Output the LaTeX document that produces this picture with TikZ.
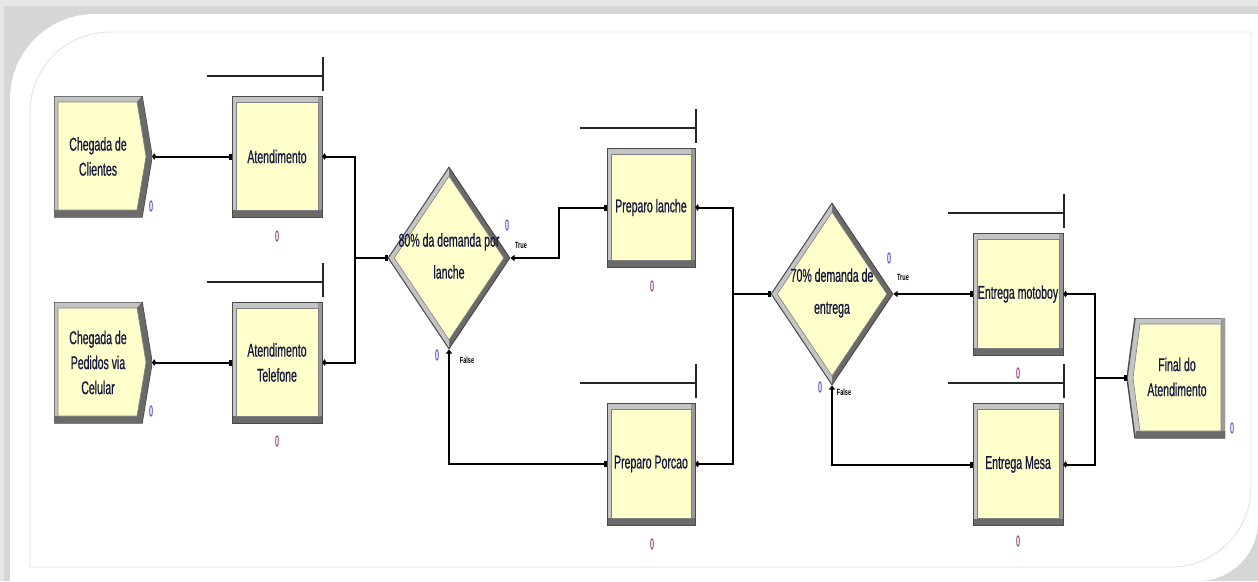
\documentclass[tikz,border=0pt]{standalone}
\usepackage{fontspec}
\newfontfamily\arena[FakeStretch=0.57,FakeBold=0.6]{Liberation Sans}
\newfontfamily\arenasmall[FakeStretch=0.62]{Liberation Sans}
\newfontfamily\arenanarrow[FakeStretch=0.42,FakeBold=0.5]{Liberation Sans}
\usetikzlibrary{shapes.geometric,arrows.meta,calc}
\definecolor{boxyellow}{HTML}{FFFFCC}
\definecolor{bevlight}{HTML}{C4C4C4}
\definecolor{bevmid}{HTML}{9A9A9A}
\definecolor{bevdark}{HTML}{6A6A6A}
\definecolor{edgedark}{HTML}{4A4A4A}
\definecolor{edgemid}{HTML}{808080}
\definecolor{txtblue}{HTML}{161840}
\definecolor{zeroproc}{HTML}{9A4A8A}
\definecolor{zeroblue}{HTML}{5A5AC8}
\definecolor{bggrey}{HTML}{D6D6D6}
\definecolor{bglight}{HTML}{E6E6E6}
\definecolor{framegrey}{HTML}{DDDDDD}
\begin{document}
\begin{tikzpicture}[x=1pt,y=-1pt,
  boxtext/.style={font=\arena\fontsize{18.5}{25}\selectfont, text=txtblue, align=center, inner sep=0pt},
  dtext/.style={font=\arena\fontsize{18.5}{32}\selectfont, text=txtblue, align=center, inner sep=0pt},
  zp/.style={font=\arenanarrow\fontsize{16}{16}\selectfont, text=zeroproc, inner sep=0pt},
  zb/.style={font=\arenanarrow\fontsize{16}{16}\selectfont, text=zeroblue, inner sep=0pt},
  tf/.style={font=\arenasmall\bfseries\fontsize{9}{9}\selectfont, text=black, inner sep=0pt},
  qline/.style={line width=2pt, draw=black!85},
  conn/.style={line width=2pt, draw=black, {Circle[length=4pt,width=5pt]}-{Square[length=3pt,width=6pt]}},
  dconn/.style={line width=2pt, draw=black, {Triangle[length=4pt,width=6pt]}-{Square[length=3pt,width=6pt]}},
  procbox/.style={rectangle, minimum width=90pt, minimum height=121pt, inner sep=0pt,
    fill=bevlight, draw=edgedark, line width=1pt, boxtext,
    path picture={
      \path (path picture bounding box.north west) coordinate (ppA)
            (path picture bounding box.north east) coordinate (ppD)
            (path picture bounding box.south east) coordinate (ppB)
            (path picture bounding box.south west) coordinate (ppC);
      \fill[bevmid] ([xshift=-4pt]ppD) rectangle (ppB);
      \fill[bevdark] (ppC) rectangle ([yshift=7pt]ppB);
      \filldraw[fill=boxyellow, draw=edgemid, line width=0.6pt]
        ([xshift=4pt,yshift=-6pt]ppA) rectangle ([xshift=-4pt,yshift=7pt]ppB);
    }},
  createbox/.style={rectangle, minimum width=98pt, minimum height=121pt, inner sep=0pt, fill=white,
    path picture={
      \path (path picture bounding box.north west) coordinate (ppA)
            (path picture bounding box.north east) coordinate (ppD)
            (path picture bounding box.east) coordinate (ppE)
            (path picture bounding box.south east) coordinate (ppB)
            (path picture bounding box.south west) coordinate (ppC);
      \filldraw[fill=bevlight, draw=edgedark, line width=1.4pt]
        (ppA) -- ([xshift=-10pt]ppD) -- (ppE) -- ([xshift=-10pt]ppB) -- (ppC) -- cycle;
      \fill[bevdark] ([xshift=-10pt]ppD) -- (ppE) -- ([xshift=-10pt]ppB) -- (ppC)
        -- ([yshift=7pt]ppC) -- ([xshift=-15pt,yshift=7pt]ppB) -- ([xshift=-6pt]ppE)
        -- ([xshift=-15pt,yshift=-6pt]ppD) -- cycle;
      \filldraw[fill=boxyellow, draw=edgemid, line width=0.6pt]
        ([xshift=4pt,yshift=-6pt]ppA) -- ([xshift=-15pt,yshift=-6pt]ppD) -- ([xshift=-6pt]ppE)
        -- ([xshift=-15pt,yshift=7pt]ppB) -- ([xshift=4pt,yshift=7pt]ppC) -- cycle;
    }},
  disposebox/.style={rectangle, minimum width=98pt, minimum height=120pt, inner sep=0pt, fill=white,
    path picture={
      \path (path picture bounding box.north west) coordinate (ppA)
            (path picture bounding box.north east) coordinate (ppD)
            (path picture bounding box.west) coordinate (ppW)
            (path picture bounding box.south east) coordinate (ppB)
            (path picture bounding box.south west) coordinate (ppC);
      \filldraw[fill=bevlight, draw=edgedark, line width=1.4pt]
        ([xshift=8pt]ppA) -- (ppD) -- (ppB) -- ([xshift=8pt]ppC) -- (ppW) -- cycle;
      \fill[bevmid] ([xshift=-4pt]ppD) rectangle (ppB);
      \fill[bevdark] ([xshift=8pt]ppC) -- (ppB) -- ([yshift=7pt]ppB) -- ([xshift=9pt,yshift=7pt]ppC) -- cycle;
      \filldraw[fill=boxyellow, draw=edgemid, line width=0.6pt]
        ([xshift=13pt,yshift=-6pt]ppA) -- ([xshift=-4pt,yshift=-6pt]ppD) -- ([xshift=-4pt,yshift=7pt]ppB)
        -- ([xshift=13pt,yshift=7pt]ppC) -- ([xshift=6pt]ppW) -- cycle;
    }},
  decbox/.style={diamond, minimum width=122pt, minimum height=182pt, inner sep=0pt,
    fill=bevdark, draw=edgedark, line width=1pt,
    path picture={
      \path (path picture bounding box.north) coordinate (ppN)
            (path picture bounding box.south) coordinate (ppS)
            (path picture bounding box.west) coordinate (ppW)
            (path picture bounding box.east) coordinate (ppE);
      \fill[bevlight] (ppN) -- (ppW) -- (ppS) -- cycle;
      \filldraw[fill=boxyellow, draw=edgemid, line width=0.6pt]
        ([yshift=-9pt]ppN) -- ([xshift=6pt]ppW) -- ([yshift=9pt]ppS) -- ([xshift=-6pt]ppE) -- cycle;
    }}
]
\useasboundingbox (0,0) rectangle (1258,581);
% background frame
\fill[bggrey] (0,0) rectangle (1258,581);
\fill[bglight] (0,0) rectangle (1258,6);
\fill[bglight] (0,0) rectangle (4,581);
\fill[white] (10,581) -- (10,99) arc[start angle=180,end angle=90,radius=85pt] -- (1258,14)
  -- (1258,521) arc[start angle=0,end angle=-90,radius=60pt] -- cycle;
\draw[framegrey, line width=0.7pt] (30,567) -- (30,112) arc[start angle=180,end angle=90,radius=80pt]
  -- (1251,32) -- (1251,487) arc[start angle=0,end angle=-90,radius=80pt] -- cycle;

% modules
\node[createbox] (c1) at (103,156.5) {};
\node[boxtext] (c1t) at (98,156.5) {Chegada de\\Clientes};
\node[createbox] (c2) at (103,362.5) {};
\node[boxtext] (c2t) at (98,362.5) {Chegada de\\Pedidos via\\Celular};
\node[procbox] (a1) at (277,156.5) {Atendimento};
\node[procbox] (a2) at (277,362.5) {Atendimento\\Telefone};
\node[decbox] (d1) at (449,258) {};
\node[dtext] (d1t) at (449,256) {80\% da demanda por\\lanche};
\node[procbox, minimum width=88pt, minimum height=119pt] (pl) at (651,207.5) {Preparo lanche};
\node[procbox, minimum width=88pt, minimum height=122pt] (pp) at (651,464) {Preparo Porcao};
\node[decbox] (d2) at (832,294) {};
\node[dtext] (d2t) at (832,293) {70\% demanda de\\entrega};
\node[procbox, minimum height=122pt] (em) at (1018,294) {Entrega motoboy};
\node[procbox, minimum height=122pt] (ms) at (1018,464.5) {Entrega Mesa};
\node[disposebox] (fa) at (1176,378) {};
\node[boxtext] (fat) at (1177,377) {Final do\\Atendimento};

% queues
\foreach \n in {a1,a2,pl,pp,em,ms}{
  \draw[qline] ([yshift=20pt]\n.north east) -- ++(-116pt,0);
  \draw[qline] ([yshift=39pt]\n.north east) -- ([yshift=5pt]\n.north east);
}

% connectors
\coordinate (j1) at (355,258);
\coordinate (t1) at (559,258);
\coordinate (j2) at (733,294);
\coordinate (j3) at (1095,378);
\draw[conn] (c1.east) -- (a1.west);
\draw[conn] (c2.east) -- (a2.west);
\draw[conn] (a1.east) -| (j1) -- (d1.west);
\draw[conn] (a2.east) -| (j1) -- (d1.west);
\draw[dconn] (d1.east) -- (t1) |- (pl.west);
\draw[dconn] (d1.south) |- (pp.west);
\draw[conn] (pl.east) -| (j2) -- (d2.west);
\draw[conn] (pp.east) -| (j2) -- (d2.west);
\draw[dconn] (d2.east) -- (em.west);
\draw[dconn] (d2.south) |- (ms.west);
\draw[conn] (em.east) -| (j3) -- (fa.west);
\draw[conn] (ms.east) -| (j3) -- (fa.west);

% counters and labels
\node[zb] (z1) at (151,206) {0};
\node[zb] (z2) at (151,411) {0};
\node[zp] (z3) at (277,236) {0};
\node[zp] (z4) at (277,441) {0};
\node[zb] (z5) at (507,225) {0};
\node[tf] (tf1) at (521,245) {True};
\node[zb] (z6) at (437,355) {0};
\node[tf] (tf2) at (467,360) {False};
\node[zp] (z7) at (652,286) {0};
\node[zp] (z8) at (652,544) {0};
\node[zb] (z9) at (889,258) {0};
\node[tf] (tf3) at (903,277) {True};
\node[zb] (z10) at (820,387) {0};
\node[tf] (tf4) at (844,392) {False};
\node[zp] (z11) at (1018,373) {0};
\node[zp] (z12) at (1018,541) {0};
\node[zb] (z13) at (1232,428) {0};
\end{tikzpicture}
\end{document}
